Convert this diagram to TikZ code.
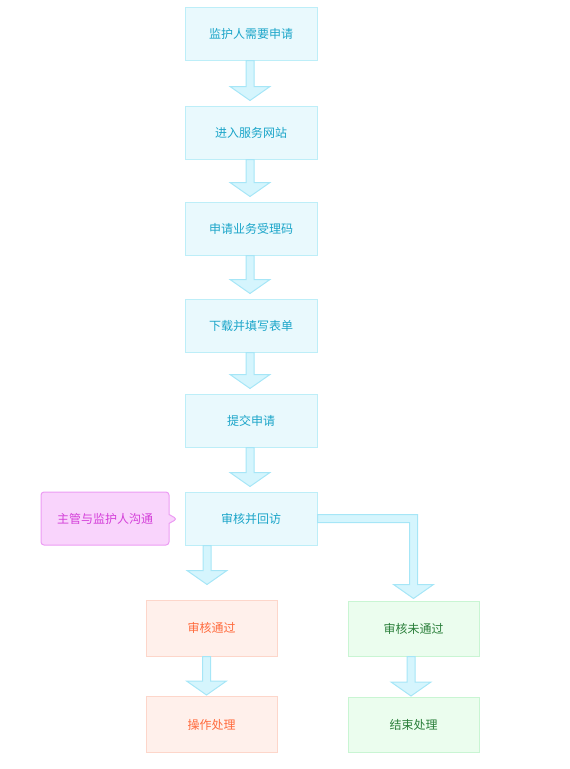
\documentclass[tikz,border=0pt]{standalone}
\usepackage{fontspec}
\setmainfont{Noto Sans CJK SC}
\usetikzlibrary{calc,shapes.callouts}

\definecolor{boxfill}{HTML}{E9F9FD}
\definecolor{boxdraw}{HTML}{BDEEF8}
\definecolor{boxtext}{HTML}{1BA5C9}
\definecolor{arrfill}{HTML}{D5F5FD}
\definecolor{arrdraw}{HTML}{A6E6F7}
\definecolor{pinkfill}{HTML}{F9D4FC}
\definecolor{pinkdraw}{HTML}{EC9CF3}
\definecolor{pinktext}{HTML}{D43FD9}
\definecolor{orfill}{HTML}{FFF0EB}
\definecolor{ordraw}{HTML}{FDD6CA}
\definecolor{ortext}{HTML}{FF6A3C}
\definecolor{grfill}{HTML}{EBFDEE}
\definecolor{grdraw}{HTML}{C9F5D3}
\definecolor{grtext}{HTML}{2A7F3A}

\tikzset{
  stepbox/.style={rectangle, draw=boxdraw, fill=boxfill, text=boxtext,
    line width=1pt, minimum width=132pt, minimum height=53pt},
  okbox/.style={stepbox, draw=ordraw, fill=orfill, text=ortext,
    minimum width=131pt, minimum height=56pt},
  nobox/.style={stepbox, draw=grdraw, fill=grfill, text=grtext,
    minimum width=131pt, minimum height=55pt},
  blockarrow/.style={draw=arrdraw, fill=arrfill, line width=1pt, line join=miter}
}

% block arrow from the bottom of #1 down to the top of #2
% #3 = sideways shift, #4 = gap above #2
\newcommand{\blockdown}[4]{%
  \draw[blockarrow] let \p1=(#1.south), \p2=(#2.north) in
    (\x2+#3-4,\y1) -- (\x2+#3+4,\y1) -- (\x2+#3+4,\y2+#4+14) -- (\x2+#3+20,\y2+#4+14)
    -- (\x2+#3,\y2+#4) -- (\x2+#3-20,\y2+#4+14) -- (\x2+#3-4,\y2+#4+14) -- cycle;}

\begin{document}
\begin{tikzpicture}[x=1pt,y=-1pt]
  \useasboundingbox (0,0) rectangle (570,769);

  \begin{scope}[every node/.style={stepbox, font=\fontsize{12}{14}\selectfont}]
    \node (apply)   at (251,33.5)  {监护人需要申请};
    \node (site)    at (251,132.5) {进入服务网站};
    \node (code)    at (251,228.5) {申请业务受理码};
    \node (form)    at (251,325.5) {下载并填写表单};
    \node (submit)  at (251,420.5) {提交申请};
    \node (review)  at (251,518.5) {审核并回访};
    \node[okbox] (pass)   at (211.5,628)   {审核通过};
    \node[okbox] (handle) at (211.5,724.5) {操作处理};
    \node[nobox] (fail)   at (413.5,628.5) {审核未通过};
    \node[nobox] (close)  at (413.5,725)   {结束处理};
    \node[rectangle callout, draw=pinkdraw, fill=pinkfill, text=pinktext,
          rounded corners=3pt, minimum width=128pt, minimum height=53pt,
          callout absolute pointer={(177,519)}, callout pointer width=9pt]
          (talk) at (105,518.5) {主管与监护人沟通};
  \end{scope}

  \blockdown{apply}{site}{-1}{5}
  \blockdown{site}{code}{-1}{5}
  \blockdown{code}{form}{-1}{5}
  \blockdown{form}{submit}{-1}{5}
  \blockdown{submit}{review}{-1}{5}
  \blockdown{review}{pass}{-4.5}{15}
  \blockdown{pass}{handle}{-5}{1}
  \blockdown{fail}{close}{-2.5}{1}

  \draw[blockarrow] let \p1=(review.east), \p2=(fail.north) in
    (\x1,\y1+4) -- (\x2+4,\y1+4) -- (\x2+4,\y2+16) -- (\x2+20,\y2+16)
    -- (\x2,\y2+2) -- (\x2-20,\y2+16) -- (\x2-4,\y2+16) -- (\x2-4,\y1-4)
    -- (\x1,\y1-4) -- cycle;

\end{tikzpicture}
\end{document}
